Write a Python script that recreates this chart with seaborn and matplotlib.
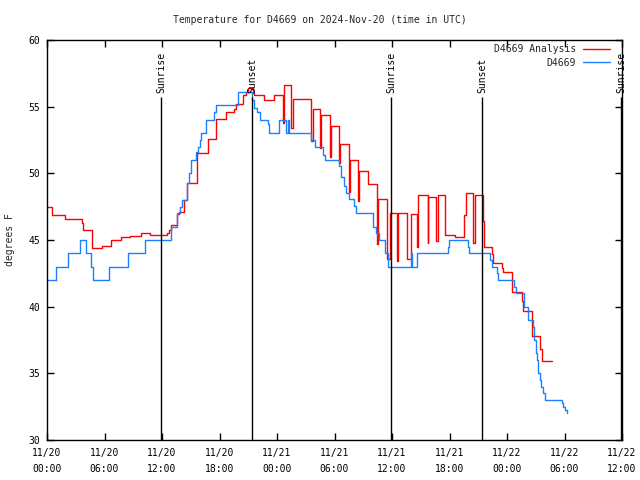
import matplotlib
matplotlib.use("Agg")
import matplotlib.pyplot as plt
import pandas as pd
import seaborn as sns

start = pd.Timestamp("2024-11-20 00:00")

# hours since 11/20 00:00 UTC and temperature (F)
analysis_hours = [0.0, 0.55, 1.88, 3.62, 3.79, 4.66, 5.74, 6.65, 7.72, 8.66, 9.78, 10.72,
                  12.49, 12.73, 12.94, 13.6, 13.77, 14.33, 14.6, 15.62, 16.77, 17.63, 18.68,
                  19.54, 19.72, 20.48, 20.77, 21.0, 21.5, 21.6, 22.64, 23.69, 24.59, 24.76,
                  25.49, 25.7, 27.52, 27.73, 28.49, 28.59, 29.53, 29.64, 30.5, 30.6, 31.54,
                  31.65, 32.48, 32.59, 33.46, 34.47, 34.57, 35.51, 35.79, 36.55, 36.66, 37.53,
                  38.01, 38.64, 38.74, 39.72, 39.78, 40.59, 40.77, 41.53, 42.57, 43.54, 43.69,
                  44.48, 44.69, 45.53, 45.63, 46.47, 46.57, 47.51, 47.61, 48.55, 49.53, 49.64,
                  50.58, 51.44, 51.62, 52.67]
analysis_temps = [47.5, 46.9, 46.6, 46.3, 45.75, 44.4, 44.55, 45.0, 45.2, 45.3, 45.55, 45.4,
                  45.55, 45.75, 46.1, 46.95, 47.1, 48.0, 49.25, 51.5, 52.6, 54.1, 54.6,
                  54.8, 55.2, 55.9, 56.1, 56.4, 56.0, 55.9, 55.5, 55.9, 53.8, 56.6,
                  53.4, 55.6, 52.4, 54.8, 51.9, 54.4, 51.2, 53.55, 50.8, 52.2, 48.6,
                  51.0, 47.9, 50.2, 49.2, 44.7, 48.1, 43.6, 47.0, 43.4, 47.0, 43.6,
                  46.95, 44.5, 48.4, 44.8, 48.2, 44.9, 48.4, 45.4, 45.25, 46.9, 48.55,
                  44.75, 48.4, 46.45, 44.5, 43.95, 43.25, 42.9, 42.6, 41.1, 40.45, 39.7,
                  37.8, 36.8, 35.9, 35.9]

obs_hours = [0.0, 0.95, 2.15, 3.4, 4.05, 4.55, 4.85, 6.45, 8.4, 10.2, 12.94, 13.6, 13.88,
             14.12, 14.58, 14.82, 15.03, 15.52, 15.73, 15.97, 16.07, 16.56, 17.46, 17.6,
             19.9, 21.35, 21.6, 21.88, 22.23, 23.03, 23.2, 24.21, 24.91, 25.18, 25.3, 27.55,
             27.97, 28.77, 29.04, 30.5, 30.68, 30.96, 31.2, 31.51, 32.07, 32.21, 33.99,
             34.36, 34.6, 35.27, 35.61, 37.95, 38.1, 38.58, 41.87, 41.95, 43.93, 44.04,
             46.23, 46.4, 46.99, 47.1, 48.76, 48.9, 49.77, 50.22, 50.68, 50.85, 51.0, 51.13,
             51.26, 51.44, 51.58, 51.72, 51.97, 53.71, 53.88, 54.05, 54.23]
obs_temps = [42.0, 43.0, 44.0, 45.0, 44.0, 43.0, 42.0, 43.0, 44.0, 45.0, 46.0, 47.0, 47.5,
             48.0, 49.25, 50.0, 51.0, 51.6, 52.0, 52.5, 53.0, 54.0, 54.6, 55.1,
             56.1, 55.5, 54.9, 54.6, 54.0, 53.7, 53.0, 54.0, 53.0, 54.0, 53.0, 52.5,
             52.0, 51.4, 51.0, 50.55, 49.75, 49.05, 48.55, 48.05, 47.55, 47.0, 46.0,
             45.5, 45.0, 44.0, 43.0, 44.0, 43.0, 44.0, 44.5, 45.0, 44.5, 44.0,
             43.5, 43.0, 42.5, 42.0, 41.5, 41.0, 40.0, 39.0, 38.5, 37.5, 36.5, 36.0,
             35.0, 34.5, 34.0, 33.5, 33.0, 32.75, 32.5, 32.25, 32.0]

sun_hours = [11.9, 21.4, 35.9, 45.4, 59.9]
sun_labels = ["Sunrise", "Sunset", "Sunrise", "Sunset", "Sunrise"]

series_order = ["D4669 Analysis", "D4669"]
palette = {"D4669 Analysis": "#ff0000", "D4669": "#1a80ff"}

df = pd.concat([
    pd.DataFrame({"time": start + pd.to_timedelta(analysis_hours, unit="h"),
                  "temp": analysis_temps, "series": "D4669 Analysis"}),
    pd.DataFrame({"time": start + pd.to_timedelta(obs_hours, unit="h"),
                  "temp": obs_temps, "series": "D4669"}),
], ignore_index=True)

sns.set_theme(style="ticks")
plt.rcParams["font.family"] = ["DejaVu Sans Mono"]
plt.rcParams["font.size"] = 7

fig = plt.figure(figsize=(6.4, 4.8), dpi=100)
ax = fig.add_axes([47 / 640, 40 / 480, 575 / 640, 400 / 480])

sns.lineplot(data=df, x="time", y="temp", hue="series", hue_order=series_order,
             palette=palette, drawstyle="steps-post", linewidth=1,
             estimator=None, sort=False, ax=ax)

# sunrise / sunset markers
for h, lbl in zip(sun_hours, sun_labels):
    t = start + pd.Timedelta(hours=h)
    ax.vlines(t, 30, 55.7, color="black", linewidth=1, clip_on=False)
    ax.text(t, 56.0, lbl, rotation=90, ha="center", va="bottom", fontsize=7,
            color="black", clip_on=False)

x_end = start + pd.Timedelta(hours=60)
ax.set_xlim(start, x_end)
ax.set_ylim(30, 60)
ticks = pd.date_range(start, x_end, freq="6h")
ax.set_xticks(ticks)
ax.set_xticklabels([t.strftime("%m/%d\n%H:%M") for t in ticks], linespacing=1.7, fontsize=7)
ax.set_yticks(range(30, 61, 5))
ax.tick_params(direction="in", top=True, right=True, length=5, width=1,
               labelsize=7, colors="black")
ax.tick_params(axis="x", pad=6)
ax.tick_params(axis="y", pad=5)
for s in ax.spines.values():
    s.set_color("black")
    s.set_linewidth(1)

ax.set_xlabel("")
ax.set_ylabel("")
fig.text(10 / 640, 0.5, "degrees F", rotation=90, ha="center", va="center", fontsize=7)
fig.text(0.5, 1 - 20 / 480, "Temperature for D4669 on 2024-Nov-20 (time in UTC)",
         ha="center", va="center", fontsize=7)

handles, labels = ax.get_legend_handles_labels()
ax.legend(handles, labels, loc="upper right", bbox_to_anchor=(610 / 640, 1 - 44 / 480),
          bbox_transform=fig.transFigure, frameon=False, markerfirst=False,
          fontsize=7, handlelength=2.8, handletextpad=0.7, labelspacing=0.4,
          borderaxespad=0.0, borderpad=0.0)

fig.savefig("out.png", dpi=100)
